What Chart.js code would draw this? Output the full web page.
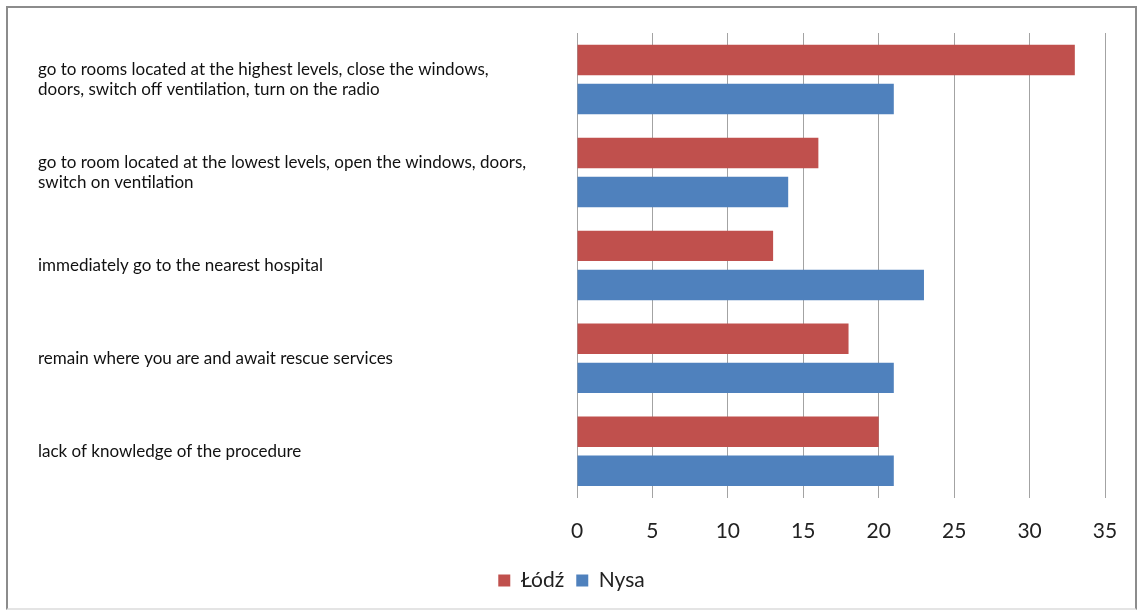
<!DOCTYPE html>
<html>
<head>
<meta charset="utf-8">
<script src="https://cdn.jsdelivr.net/npm/chart.js@4"></script>
<style>
  body { margin: 0; background: #fff; }
  .wrap { position: relative; width: 1140px; height: 614px; }
  .frame { position: absolute; left: 6px; top: 6px; width: 1131px; height: 604px;
           border: 2px solid #8c8c8c; border-bottom-color: #e4e4e4; box-sizing: border-box; pointer-events: none; }
  canvas { position: absolute; left: 0; top: 0; }
</style>
</head>
<body>
<div class="wrap">
  <canvas id="myChart" width="1140" height="614"></canvas>
  <div class="frame"></div>
</div>
<script>
// categories as in the picture (top to bottom)
const categories = [
    ['go to rooms located at the highest levels, close the windows,', 'doors, switch off ventilation, turn on the radio'],
    ['go to room located at the lowest levels, open the windows, doors,', 'switch on ventilation'],
    'immediately go to the nearest hospital',
    'remain where you are and await rescue services',
    'lack of knowledge of the procedure'
];
const lodz = [33, 16, 13, 18, 20];
const nysa = [21, 14, 23, 21, 21];
const xTicks = [0, 5, 10, 15, 20, 25, 30, 35];

let canvasChart = document.getElementById('myChart').getContext('2d');

const data = {
    labels: categories,
    datasets: [{
        label: 'Łódź',
        data: lodz,
        backgroundColor: '#C0504D',
        barPercentage: 0.78,
        categoryPercentage: 0.84
    }, {
        label: 'Nysa',
        data: nysa,
        backgroundColor: '#4F81BD',
        barPercentage: 0.78,
        categoryPercentage: 0.84
    }]
};

const config = {
    type: 'bar',
    data: data,
    options: {
        indexAxis: 'y',
        responsive: false,
        animation: false,
        layout: {
            padding: { left: 38, top: 33, right: 35, bottom: 13 }
        },
        plugins: {
            tooltip: { enabled: false },
            legend: {
                position: 'bottom',
                labels: {
                    boxWidth: 12,
                    boxHeight: 12,
                    padding: 12,
                    color: '#222',
                    font: { family: 'Lato', size: 21 }
                }
            }
        },
        scales: {
            x: {
                min: 0,
                max: 35,
                afterBuildTicks: (axis) => { axis.ticks = xTicks.map(v => ({ value: v })); },
                afterFit: (axis) => {
                    axis.height -= 7;
                    axis.paddingLeft = 0;
                    axis.paddingRight = 0;
                },
                grid: { color: '#a3a3a3', lineWidth: 1, drawTicks: false },
                border: { display: false },
                ticks: {
                    padding: 21,
                    color: '#222',
                    font: { family: 'Lato', size: 21 }
                }
            },
            y: {
                grid: { display: false },
                border: { display: false },
                afterFit: (axis) => {
                    axis.width = 577 - 38;
                    axis.paddingTop = 0;
                    axis.paddingBottom = 0;
                },
                ticks: {
                    crossAlign: 'far',
                    color: '#111',
                    autoSkip: false,
                    font: { family: 'Lato', size: 17, lineHeight: 1.2 }
                }
            }
        }
    }
};

let myChart = new Chart(canvasChart, config);
</script>
</body>
</html>
